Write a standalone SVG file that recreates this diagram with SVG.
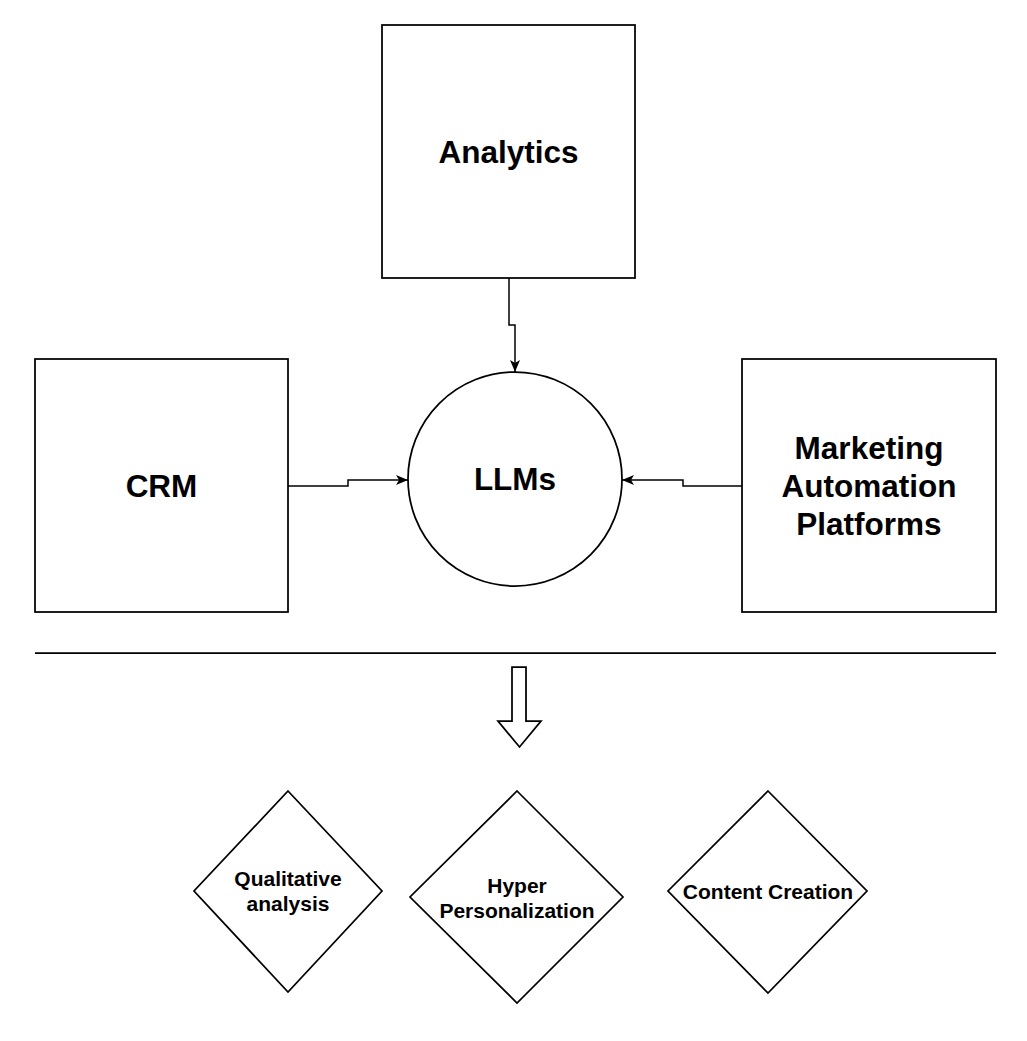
<svg xmlns="http://www.w3.org/2000/svg" width="1027" height="1041" viewBox="0 0 1027 1041">
<style>
.shape{fill:#ffffff;stroke:#000000;stroke-width:1.75}
.conn{fill:none;stroke:#000000;stroke-width:1.5}
.big{font-family:"Liberation Sans",Arial,sans-serif;font-weight:bold;font-size:31.5px;fill:#000000;text-anchor:middle}
.small{font-family:"Liberation Sans",Arial,sans-serif;font-weight:bold;font-size:21px;fill:#000000;text-anchor:middle}
</style>
<defs>
<marker id="arr" markerUnits="userSpaceOnUse" viewBox="0 0 12 10" refX="12" refY="5" markerWidth="12" markerHeight="10" orient="auto">
<path d="M0,0 L12,5 L0,10 L3,5 Z" fill="#000000"/>
</marker>
</defs>
<rect width="1027" height="1041" fill="#ffffff"/>
<g id="connectors">
<path class="conn" d="M509,278 L509,325 L515,325 L515,372" marker-end="url(#arr)"/>
<path class="conn" d="M288,486 L348,486 L348,480 L408,480" marker-end="url(#arr)"/>
<path class="conn" d="M742,486 L683,486 L683,480 L622,480" marker-end="url(#arr)"/>
</g>
<g id="analytics">
<rect class="shape" x="382" y="25" width="253" height="253"/>
<text class="big" x="508.5" y="162.5">Analytics</text>
</g>
<g id="crm">
<rect class="shape" x="35" y="359" width="253" height="253"/>
<text class="big" x="161.5" y="497">CRM</text>
</g>
<g id="llms">
<circle class="shape" cx="515" cy="479" r="107"/>
<text class="big" x="515" y="490">LLMs</text>
</g>
<g id="map">
<rect class="shape" x="742" y="359" width="254" height="253"/>
<text class="big" x="869" y="459">Marketing</text>
<text class="big" x="869" y="497">Automation</text>
<text class="big" x="869" y="535">Platforms</text>
</g>
<g id="divider">
<line x1="35" y1="653" x2="996" y2="653" stroke="#000000" stroke-width="1.75"/>
</g>
<g id="down-arrow">
<polygon class="shape" points="512,667 526,667 526,721 541,721 519.5,747 498,721 512,721"/>
</g>
<g id="qualitative">
<polygon class="shape" points="288,791 382,891 288,992 194,891"/>
<text class="small" x="288" y="886">Qualitative</text>
<text class="small" x="288" y="911">analysis</text>
</g>
<g id="hyper">
<polygon class="shape" points="517,791 623,897 517,1003 410,897"/>
<text class="small" x="517" y="893">Hyper</text>
<text class="small" x="517" y="918">Personalization</text>
</g>
<g id="content">
<polygon class="shape" points="768,791 867,891 768,993 668,891"/>
<text class="small" x="768" y="899">Content Creation</text>
</g>
</svg>
